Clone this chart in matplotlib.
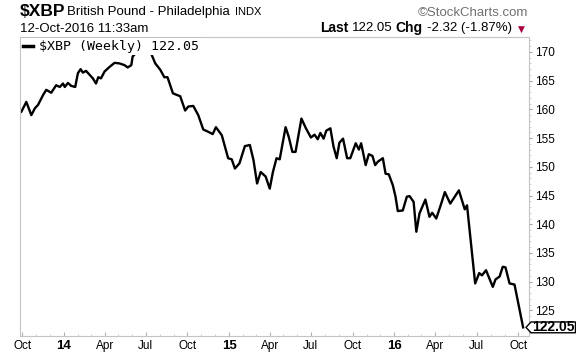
import matplotlib
matplotlib.use("Agg")
import matplotlib.pyplot as plt
import matplotlib.dates as mdates
import matplotlib.transforms as mtransforms
from matplotlib.patches import Polygon
from matplotlib import font_manager
import pandas as pd

# weekly closes of $XBP
dates = [
    "2013-09-29", "2013-10-10", "2013-10-21", "2013-10-29", "2013-11-05", "2013-11-16",
    "2013-11-23", "2013-12-04", "2013-12-15", "2013-12-23", "2013-12-30",
    "2014-01-03", "2014-01-10", "2014-01-17", "2014-01-26", "2014-02-01", "2014-02-07",
    "2014-02-12", "2014-02-19", "2014-02-27", "2014-03-06", "2014-03-13", "2014-03-18",
    "2014-03-24", "2014-04-01", "2014-04-12", "2014-04-23", "2014-05-04", "2014-05-15",
    "2014-05-22", "2014-05-30", "2014-06-02", "2014-06-09", "2014-06-17", "2014-06-26",
    "2014-07-04", "2014-07-11", "2014-07-22", "2014-08-02", "2014-08-11", "2014-08-18",
    "2014-08-30", "2014-09-08", "2014-09-15", "2014-09-26", "2014-10-03", "2014-10-14",
    "2014-10-25", "2014-11-05", "2014-11-16", "2014-11-26", "2014-12-03", "2014-12-16",
    "2014-12-30",
    "2015-01-07", "2015-01-14", "2015-01-24", "2015-02-05", "2015-02-16", "2015-02-24",
    "2015-03-04", "2015-03-12", "2015-03-23", "2015-04-01", "2015-04-08", "2015-04-16",
    "2015-04-23", "2015-05-06", "2015-05-13", "2015-05-21", "2015-05-28", "2015-06-10",
    "2015-06-20", "2015-07-01", "2015-07-09", "2015-07-16", "2015-07-22", "2015-07-29",
    "2015-08-04", "2015-08-13", "2015-08-20", "2015-08-27", "2015-09-02", "2015-09-10",
    "2015-09-19", "2015-09-26", "2015-10-08", "2015-10-15", "2015-10-20", "2015-10-30",
    "2015-11-06", "2015-11-14", "2015-11-20", "2015-11-26", "2015-12-07", "2015-12-13",
    "2015-12-20", "2015-12-29",
    "2016-01-04", "2016-01-09", "2016-01-20", "2016-01-29", "2016-02-04", "2016-02-13",
    "2016-02-19", "2016-02-26", "2016-03-10", "2016-03-19", "2016-03-25", "2016-04-03",
    "2016-04-14", "2016-04-22", "2016-05-04", "2016-05-23", "2016-06-05", "2016-06-10",
    "2016-06-28", "2016-07-07", "2016-07-13", "2016-07-22", "2016-08-06", "2016-08-12",
    "2016-08-21", "2016-08-28", "2016-09-03", "2016-09-12", "2016-09-23", "2016-10-12",
]
closes = [
    159.6, 161.3, 159.0, 160.2, 160.8, 162.5, 163.4, 162.9, 164.2, 163.9, 164.5,
    163.9, 164.6, 164.1, 163.9, 166.3, 167.0, 166.4, 166.7, 166.0, 165.4, 164.5, 165.6,
    165.4, 166.6, 167.4, 168.1, 168.0, 167.7, 167.3, 167.7, 169.2, 169.8, 170.3, 170.8,
    171.3, 170.05, 168.0, 166.9, 165.6, 165.6, 162.8, 162.5, 162.3, 159.8, 160.5, 160.6,
    159.0, 156.5, 156.1, 155.7, 156.9, 155.5, 151.5,
    151.3, 149.7, 150.6, 153.6, 153.8, 151.2, 147.1, 149.1, 148.3, 146.2, 149.1, 151.5,
    151.3, 156.9, 155.2, 152.6, 152.6, 158.4, 156.7, 155.1, 155.6, 154.8, 155.9, 154.9,
    156.3, 156.7, 153.5, 151.5, 154.2, 154.9, 151.5, 151.5, 154.1, 153.0, 154.1, 150.3,
    152.2, 151.9, 150.3, 150.9, 151.5, 148.8, 148.7, 146.8,
    144.8, 142.3, 142.4, 144.8, 144.9, 143.9, 138.7, 141.9, 144.3, 141.3, 142.0, 141.0,
    143.6, 145.6, 143.6, 145.9, 142.6, 143.3, 129.7, 131.5, 131.1, 132.0, 129.1, 130.4,
    130.9, 132.6, 132.5, 129.7, 129.5, 122.05,
]

tick_dates = ["2013-10-01", "2014-01-01", "2014-04-01", "2014-07-01", "2014-10-01",
              "2015-01-01", "2015-04-01", "2015-07-01", "2015-10-01", "2016-01-01",
              "2016-04-01", "2016-07-01", "2016-10-01"]
tick_labels = ["Oct", "14", "Apr", "Jul", "Oct", "15", "Apr", "Jul", "Oct", "16",
               "Apr", "Jul", "Oct"]
y_ticks = [125, 130, 135, 140, 145, 150, 155, 160, 165, 170]

last_value = 122.05
last_text = "122.05"
change_text = "-2.32 (-1.87%)"

available = {f.name for f in font_manager.fontManager.ttflist}
SANS = "Liberation Sans"
NARROW = "Liberation Sans Narrow" if "Liberation Sans Narrow" in available else SANS

W, H = 576, 356
fig = plt.figure(figsize=(W / 100, H / 100), dpi=100)
fig.patch.set_facecolor("white")


def fx(x):
    return x / W


def fy(y):
    return 1 - y / H


left, right, top, bottom = 20, 529, 37, 335.7
ax = fig.add_axes([fx(left), fy(bottom), (right - left) / W, (bottom - top) / H])

x = pd.to_datetime(dates)
ax.plot(x, closes, color="black", lw=1.7, solid_joinstyle="round",
        label=r"\$XBP (Weekly) " + last_text)

ax.set_xlim(pd.Timestamp("2013-09-26"), pd.Timestamp("2016-10-25"))
ax.set_ylim(120.6, 172.6)

for s in ax.spines.values():
    s.set_color("#c4c4c4")
    s.set_linewidth(0.8)

# x axis
ax.set_xticks(pd.to_datetime(tick_dates))
ax.set_xticklabels(tick_labels, fontfamily=SANS, fontsize=8.5)
for lab in ax.get_xticklabels():
    if lab.get_text().isdigit():
        lab.set_fontweight("bold")
        lab.set_fontsize(9.5)
ax.xaxis.set_minor_locator(mdates.MonthLocator())
ax.tick_params(axis="x", which="major", direction="in", length=3, color="#b0b0b0", pad=3)
ax.tick_params(axis="x", which="minor", direction="in", length=1.5, color="#c8c8c8")

# y axis on the right
ax.yaxis.tick_right()
ax.set_yticks(y_ticks)
ax.set_yticklabels([str(v) for v in y_ticks], fontfamily=NARROW, fontsize=8.5)
ax.yaxis.set_minor_locator(matplotlib.ticker.MultipleLocator(1))
ax.tick_params(axis="y", which="major", direction="out", length=2.5, color="#a0a0a0", pad=1.5)
ax.tick_params(axis="y", which="minor", direction="out", length=1.2, color="#c8c8c8")

leg = ax.legend(loc="upper left", borderaxespad=0.1, borderpad=0.15, handlelength=0.7,
                handletextpad=0.5, frameon=True, fancybox=False,
                prop={"family": "DejaVu Sans Mono", "size": 9.5})
leg.get_frame().set_facecolor("white")
leg.get_frame().set_edgecolor("none")
leg.get_frame().set_alpha(1)
leg.get_lines()[0].set_linewidth(2.5)

# last value tag on the right axis
trans = mtransforms.blended_transform_factory(ax.transAxes, ax.transData)
axw = right - left
tip, body, end = (526 - left) / axw, (531 - left) / axw, (575.5 - left) / axw
hh = 5.4 / ((bottom - top) / (172.6 - 120.6))
tag = Polygon([(tip, last_value), (body, last_value + hh), (end, last_value + hh),
               (end, last_value - hh), (body, last_value - hh)],
              closed=True, transform=trans, facecolor="white", edgecolor="black",
              lw=1.0, clip_on=False, zorder=6)
ax.add_patch(tag)
ax.text((body + end) / 2, last_value, last_text, transform=trans, ha="center", va="center",
        fontfamily=NARROW, fontweight="bold", fontsize=10, zorder=7, clip_on=False)

# header
fig.text(fx(20), fy(11), r"\$XBP", fontfamily=SANS, fontweight="bold", fontsize=12.5,
         va="center", ha="left")
fig.text(fx(67), fy(11.5), "British Pound - Philadelphia", fontfamily=SANS, fontsize=9.5,
         va="center", ha="left")
fig.text(fx(235), fy(12), "INDX", fontfamily=SANS, fontsize=8, va="center", ha="left")
fig.text(fx(20), fy(29), "12-Oct-2016 11:33am", fontfamily=SANS, fontsize=9.5,
         va="center", ha="left")
fig.text(fx(528), fy(13), "\u00a9StockCharts.com", fontfamily=SANS, fontsize=9.5,
         color="#707070", va="center", ha="right")

fig.text(fx(320), fy(28), "Last", fontfamily=SANS, fontweight="bold", fontsize=10,
         va="center", ha="left")
fig.text(fx(352), fy(28), last_text, fontfamily=SANS, fontsize=9.5, va="center", ha="left")
fig.text(fx(395), fy(28), "Chg", fontfamily=SANS, fontweight="bold", fontsize=10,
         va="center", ha="left")
fig.text(fx(427), fy(28), change_text, fontfamily=SANS, fontsize=9.5, va="center", ha="left")
fig.text(fx(518), fy(29), "\u25bc", fontfamily="DejaVu Sans", fontsize=6.5,
         color="#a8003f", va="center", ha="left")

fig.savefig("out.png", dpi=100, facecolor="white")
